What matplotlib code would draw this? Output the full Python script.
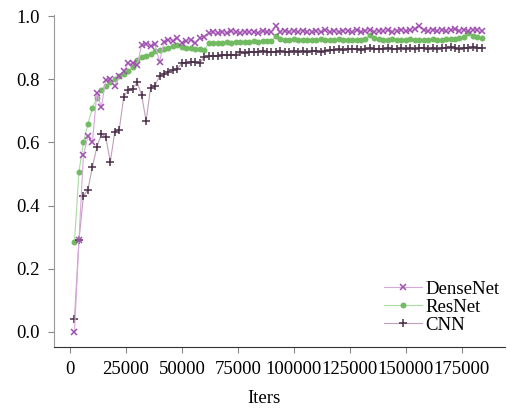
import matplotlib
matplotlib.use("Agg")
import matplotlib.pyplot as plt

plt.rcParams['font.family'] = ['Liberation Serif', 'DejaVu Serif']

iters = list(range(2000, 184001, 2000))

densenet = [0.00, 0.29, 0.56, 0.62, 0.60, 0.756, 0.712, 0.797, 0.80, 0.778,
            0.81, 0.825, 0.85, 0.85, 0.845, 0.908, 0.91, 0.905, 0.91, 0.855,
            0.918, 0.925, 0.92, 0.93, 0.915, 0.92, 0.925, 0.915, 0.93, 0.935,
            0.945,
            0.948, 0.945, 0.950, 0.947, 0.952, 0.949, 0.946, 0.951, 0.948, 0.950,
            0.947, 0.952, 0.949, 0.951,
            0.968,
            0.950, 0.953, 0.949, 0.952, 0.950, 0.954, 0.951, 0.948, 0.953, 0.950,
            0.955, 0.951, 0.953, 0.950, 0.954, 0.952, 0.949, 0.955, 0.951, 0.953,
            0.956, 0.950, 0.954, 0.952, 0.955, 0.951, 0.953, 0.957, 0.952, 0.955,
            0.958,
            0.970,
            0.955, 0.953, 0.957, 0.954, 0.956, 0.952, 0.955, 0.958, 0.954, 0.956,
            0.953, 0.957, 0.955, 0.952]

resnet = [0.285, 0.506, 0.600, 0.658, 0.709, 0.740, 0.766, 0.780, 0.790, 0.800,
          0.810, 0.815, 0.825, 0.838, 0.862, 0.870, 0.875, 0.880, 0.888, 0.892,
          0.895, 0.900, 0.905, 0.908, 0.903, 0.900, 0.898, 0.895, 0.895, 0.892,
          0.915, 0.914, 0.916, 0.915, 0.917, 0.916, 0.918, 0.917, 0.919, 0.918,
          0.920, 0.919, 0.921, 0.920, 0.922,
          0.936,
          0.928, 0.925, 0.924, 0.926, 0.924, 0.925, 0.923, 0.925, 0.924, 0.926,
          0.923, 0.925, 0.924, 0.926, 0.924, 0.925, 0.923, 0.925, 0.924, 0.926,
          0.940,
          0.930, 0.926, 0.925, 0.924, 0.926, 0.923, 0.925, 0.924, 0.926, 0.924,
          0.925, 0.923, 0.925, 0.926, 0.924, 0.925, 0.927, 0.926, 0.928, 0.930,
          0.935,
          0.945,
          0.938, 0.934, 0.932]

cnn = [0.041, 0.290, 0.430, 0.450, 0.522, 0.585, 0.627, 0.617, 0.538, 0.633,
       0.640, 0.744, 0.766, 0.770, 0.790, 0.750, 0.668, 0.772, 0.780, 0.810,
       0.815, 0.823, 0.830, 0.833, 0.850, 0.852, 0.853, 0.855, 0.852, 0.870,
       0.872,
       0.875, 0.874, 0.877, 0.876, 0.878, 0.877,
       0.885, 0.884, 0.887, 0.886, 0.885, 0.888, 0.886, 0.887, 0.885, 0.889,
       0.887, 0.886, 0.888, 0.887, 0.889, 0.886, 0.888, 0.890, 0.887, 0.889,
       0.891,
       0.893, 0.895, 0.894, 0.896, 0.895, 0.897, 0.894, 0.896, 0.898, 0.895,
       0.897, 0.896, 0.899, 0.897, 0.895, 0.898, 0.896, 0.899, 0.897, 0.900,
       0.898, 0.896, 0.899, 0.897, 0.900, 0.898, 0.901, 0.899, 0.897, 0.900,
       0.898, 0.901, 0.899, 0.900]

labels = ["DenseNet", "ResNet", "CNN"]
xticks = [0, 25000, 50000, 75000, 100000, 125000, 150000, 175000]
yticks = [0.0, 0.2, 0.4, 0.6, 0.8, 1.0]

fig = plt.figure(figsize=(5.07, 4.08), dpi=100)
ax = fig.add_axes([0.1065, 0.1495, 0.889, 0.8135])

ax.plot(iters, densenet, color='#d8a8dc', lw=0.8, marker='x', ms=5.0, mew=1.1,
        mec='#a050b0', mfc='#a050b0', label=labels[0], zorder=3)
ax.plot(iters, resnet, color='#a8dca0', lw=0.8, marker='o', ms=4.3, mew=0,
        mec='#72bb62', mfc='#72bb62', label=labels[1], zorder=2)
ax.plot(iters, cnn, color='#c0a0b8', lw=0.8, marker='+', ms=6, mew=1.1,
        mec='#4a3048', mfc='#4a3048', label=labels[2], zorder=2)

ax.set_xlim(-7143, 194200)
ax.set_ylim(-0.0475, 1.003)
ax.set_xticks(xticks)
ax.set_xticklabels([str(t) for t in xticks])
ax.set_yticks(yticks)
ax.set_yticklabels([f"{t:.1f}" for t in yticks])

for s in ['top', 'right']:
    ax.spines[s].set_visible(False)
ax.spines['left'].set_color('#999999')
ax.spines['bottom'].set_color('#333333')
ax.tick_params(axis='both', labelsize=13.5, length=4, width=0.8, color='#888888', pad=6)

ax.set_xlabel("Iters", fontsize=13.5)
ax.xaxis.set_label_coords(0.465, -0.13)

leg = ax.legend(loc='lower right', bbox_to_anchor=(1.01, 0.012), frameon=False,
                fontsize=13.5, labelspacing=0.05, handlelength=2.0,
                handletextpad=0.2, borderpad=0.0)

fig.savefig("out.png", dpi=100)
